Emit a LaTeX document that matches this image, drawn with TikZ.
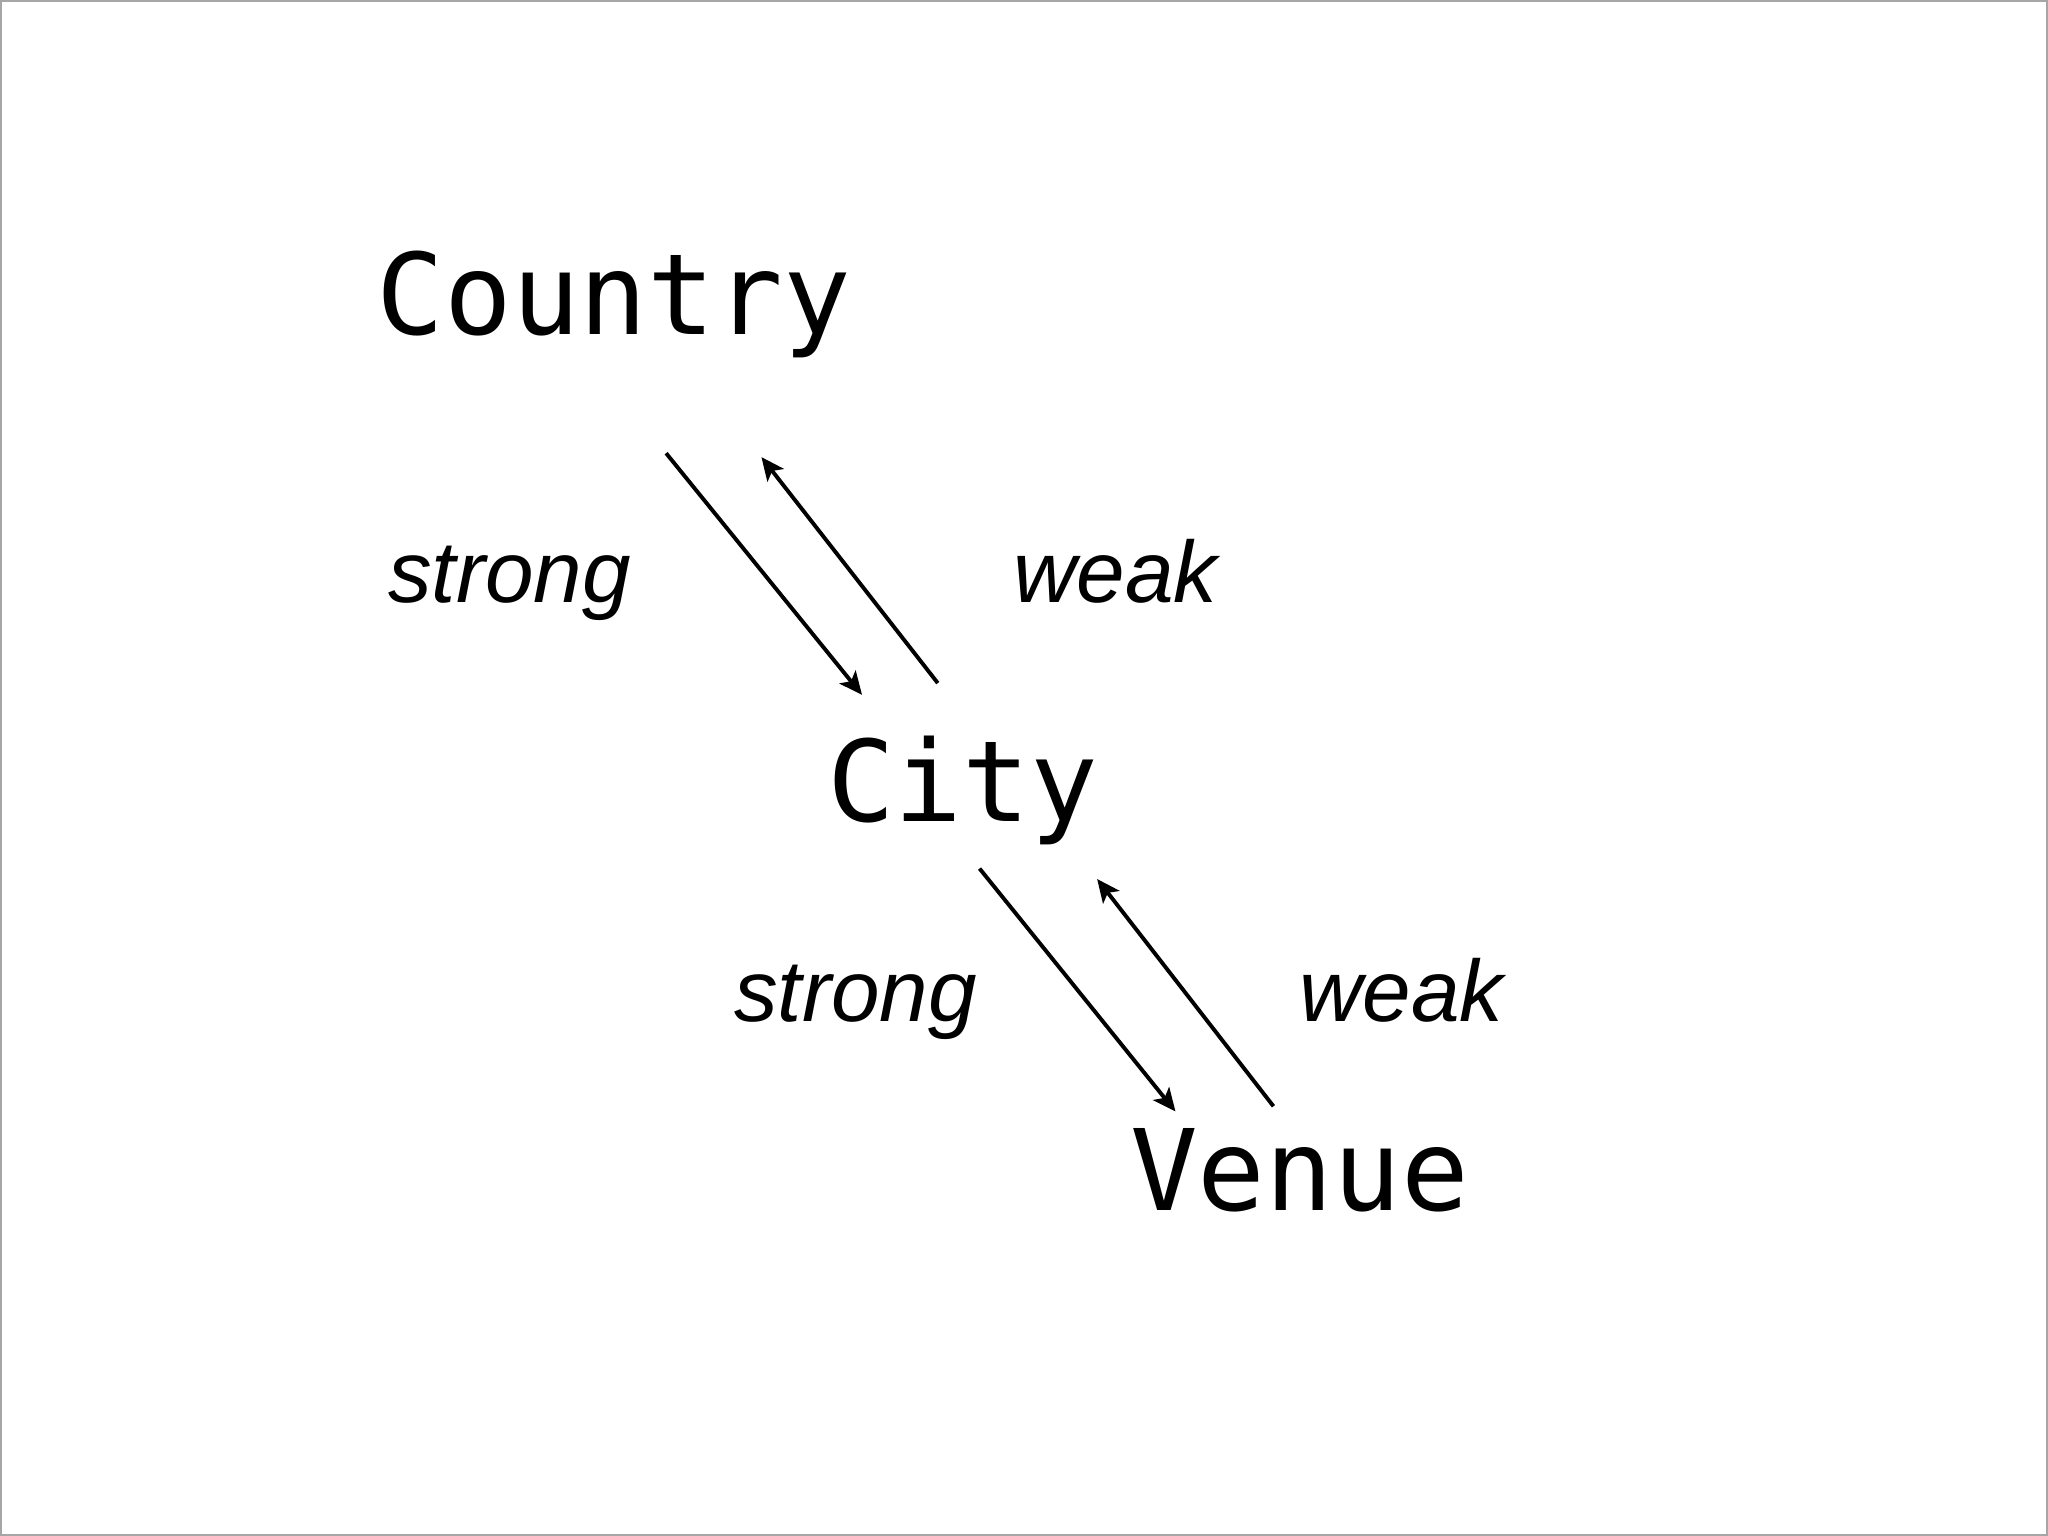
\documentclass[tikz,border=0pt]{standalone}
\usepackage{fontspec}
\setmainfont{Liberation Sans}
\newfontfamily\monof{DejaVu Sans Mono}
\usetikzlibrary{arrows.meta}
\begin{document}
\begin{tikzpicture}[x=0.01cm,y=-0.01cm,
  ent/.style={font=\monof\fontsize{24.5}{28}\selectfont,anchor=base,inner sep=0},
  lbl/.style={font=\itshape\fontsize{19}{23}\selectfont,anchor=base,inner sep=0},
  arr/.style={line width=0.85pt,-{Stealth[length=5pt,width=4.5pt,inset=1.2pt]}}]
\useasboundingbox (0,0) rectangle (1568,1176);
\draw[gray!70,line width=0.8pt] (0.5,0.5) rectangle (1567.5,1175.5);
\node[ent] (country) at (470,256) {Country};
\node[ent] (city) at (737,629) {City};
\node[ent] (venue) at (995,927) {Venue};
\node[lbl] (s1) at (390,461) {strong};
\node[lbl] (w1) at (854,461) {weak};
\node[lbl] (s2) at (655,782) {strong};
\node[lbl] (w2) at (1073,782) {weak};
\coordinate (a1) at (510,347); \coordinate (b1) at (660,532);
\coordinate (a2) at (718,523); \coordinate (b2) at (583,350);
\coordinate (a3) at (750,665); \coordinate (b3) at (900,851);
\coordinate (a4) at (975,847); \coordinate (b4) at (840,673);
\draw[arr] (a1) -- (b1);
\draw[arr] (a2) -- (b2);
\draw[arr] (a3) -- (b3);
\draw[arr] (a4) -- (b4);
\end{tikzpicture}
\end{document}
